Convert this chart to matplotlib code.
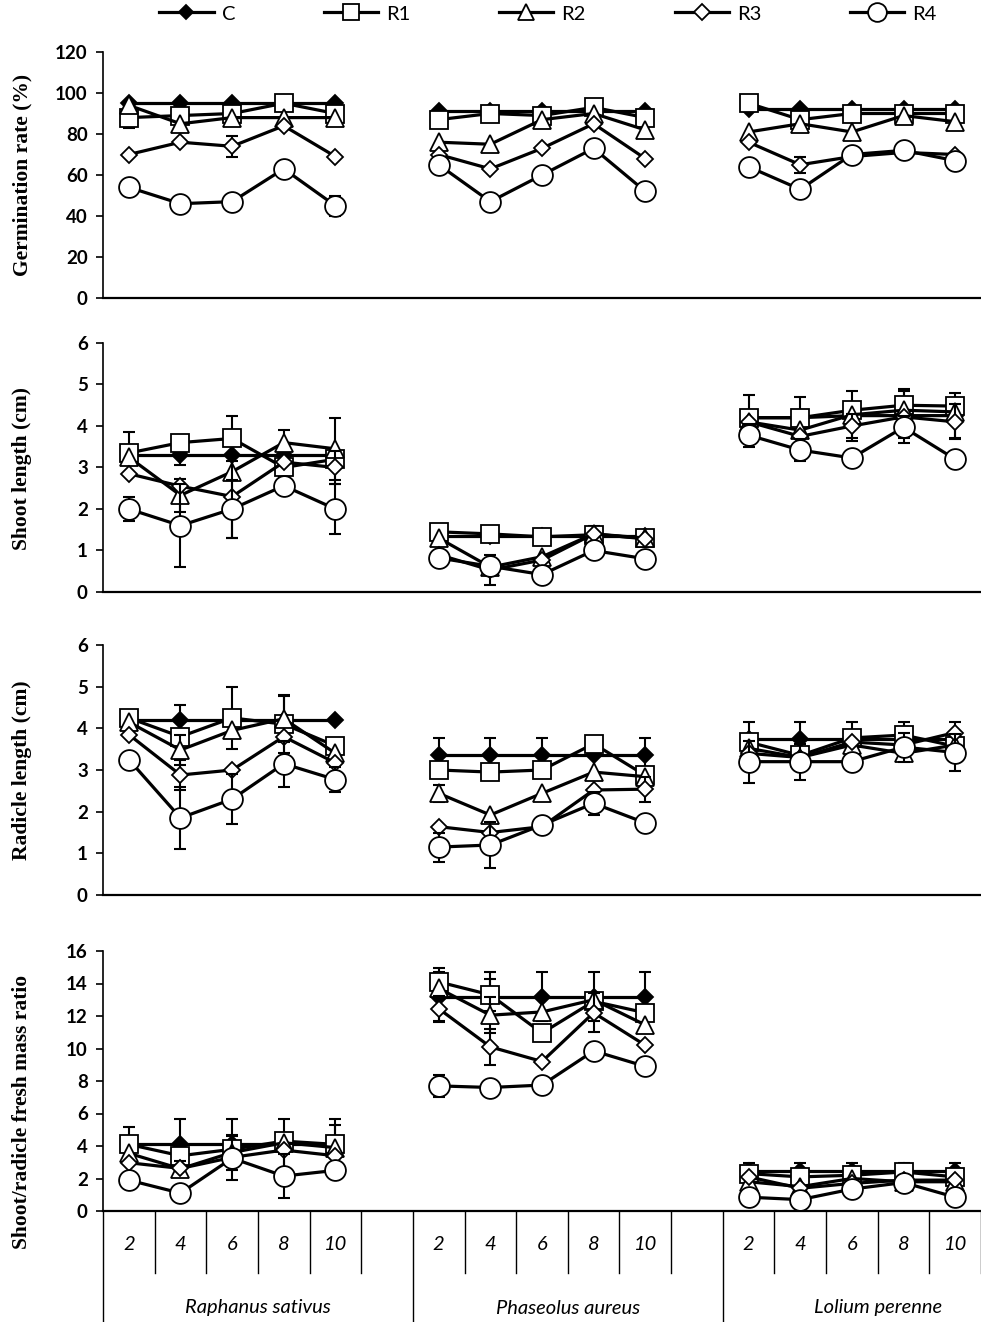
import numpy as np
import matplotlib.pyplot as plt
from matplotlib.lines import Line2D

plt.rcParams['font.family'] = 'Lato'

# categories
groups = ['Raphanus sativus', 'Phaseolus aureus', 'Lolium perenne']
days = ['2', '4', '6', '8', '10']
series = ['C', 'R1', 'R2', 'R3', 'R4']

# values: rows C,R1,R2,R3,R4 ; 15 columns = 3 species x days 2..10
germ = [
    [95, 95, 95, 95, 95, 91, 91, 91, 91, 91, 92, 92, 92, 92, 92],
    [88, 89, 90, 95, 90, 87, 90, 89, 93, 88, 95, 87, 90, 90, 90],
    [94, 85, 88, 88, 88, 76, 75, 87, 90, 82, 81, 85, 81, 89, 86],
    [70, 76, 74, 84, 69, 70, 63, 73, 85, 68, 76, 65, 69, 71, 70],
    [54, 46, 47, 63, 45, 65, 47, 60, 73, 52, 64, 53, 70, 72, 67],
]
germ_err = [
    [0, 0, 0, 0, 0, 0, 0, 0, 0, 0, 0, 0, 0, 0, 0],
    [5, 0, 0, 0, 0, 0, 0, 0, 0, 0, 0, 0, 0, 0, 0],
    [0, 0, 0, 0, 0, 0, 0, 0, 0, 0, 0, 0, 0, 0, 0],
    [0, 0, 5, 0, 0, 0, 0, 0, 0, 0, 0, 4, 0, 0, 0],
    [0, 0, 0, 0, 5, 0, 0, 0, 0, 0, 0, 0, 0, 0, 0],
]

shoot = [
    [3.3, 3.3, 3.3, 3.3, 3.3, 1.35, 1.35, 1.35, 1.35, 1.35, 4.2, 4.2, 4.25, 4.25, 4.25],
    [3.35, 3.6, 3.7, 3.0, 3.2, 1.45, 1.4, 1.33, 1.38, 1.3, 4.2, 4.2, 4.38, 4.5, 4.48],
    [3.25, 2.33, 2.9, 3.6, 3.45, 1.3, 0.6, 0.85, 1.4, 1.3, 4.1, 3.9, 4.27, 4.38, 4.34],
    [2.85, 2.55, 2.3, 3.13, 3.0, 0.9, 0.53, 0.77, 1.4, 1.28, 4.1, 3.75, 4.0, 4.22, 4.1],
    [2.0, 1.6, 2.0, 2.56, 2.0, 0.82, 0.62, 0.42, 1.0, 0.8, 3.78, 3.42, 3.23, 3.97, 3.2],
]
shoot_err = [
    [0, 0.25, 0, 0, 0, 0, 0, 0, 0.25, 0, 0.55, 0.5, 0.6, 0.65, 0.55],
    [0.5, 0, 0.55, 0, 0, 0, 0, 0.2, 0, 0, 0, 0, 0, 0.35, 0],
    [0, 0.4, 0, 0.3, 0.75, 0, 0, 0, 0, 0, 0, 0, 0, 0, 0],
    [0, 0, 1.0, 0, 0.4, 0, 0.35, 0, 0, 0, 0, 0, 0.3, 0, 0.42],
    [0.28, 1.0, 0.7, 0.2, 0.6, 0, 0, 0, 0, 0, 0.28, 0.27, 0, 0.27, 0],
]

radicle = [
    [4.2, 4.2, 4.2, 4.2, 4.2, 3.35, 3.35, 3.35, 3.35, 3.35, 3.75, 3.75, 3.75, 3.75, 3.75],
    [4.25, 3.8, 4.25, 4.1, 3.58, 3.0, 2.95, 3.0, 3.63, 2.87, 3.67, 3.35, 3.77, 3.84, 3.57],
    [4.15, 3.48, 3.95, 4.23, 3.4, 2.44, 1.92, 2.44, 2.95, 2.84, 3.52, 3.3, 3.6, 3.4, 3.6],
    [3.85, 2.88, 3.0, 3.8, 3.17, 1.64, 1.5, 1.64, 2.52, 2.54, 3.4, 3.3, 3.67, 3.6, 3.9],
    [3.25, 1.85, 2.3, 3.15, 2.77, 1.15, 1.2, 1.68, 2.2, 1.73, 3.2, 3.2, 3.2, 3.55, 3.42],
]
radicle_err = [
    [0, 0.35, 0, 0, 0, 0.43, 0.43, 0.43, 0, 0.43, 0.4, 0.4, 0.4, 0.4, 0.4],
    [0, 0, 0.75, 0.7, 0, 0, 0, 0, 0, 0, 0, 0, 0, 0, 0],
    [0, 0.35, 0, 0.55, 0, 0.2, 0, 0, 0, 0, 0, 0, 0, 0, 0],
    [0, 0.35, 0, 0, 0, 0, 0, 0, 0, 0.3, 0, 0, 0, 0, 0],
    [0, 0.75, 0.6, 0.55, 0.3, 0.35, 0.56, 0.2, 0.28, 0, 0.5, 0.43, 0, 0.35, 0.45],
]

ratio = [
    [4.1, 4.1, 4.1, 4.1, 4.1, 13.2, 13.2, 13.2, 13.2, 13.2, 2.45, 2.45, 2.45, 2.45, 2.45],
    [4.1, 3.4, 3.8, 4.3, 4.1, 14.1, 13.3, 10.95, 12.9, 12.2, 2.3, 2.1, 2.2, 2.4, 2.1],
    [3.55, 2.6, 3.6, 4.2, 3.9, 13.7, 12.05, 12.25, 13.0, 11.45, 1.8, 1.5, 2.0, 1.8, 1.8],
    [2.97, 2.62, 3.3, 3.75, 3.4, 12.45, 10.1, 9.2, 12.2, 10.2, 2.1, 1.4, 1.7, 1.9, 1.9],
    [1.9, 1.1, 3.25, 2.15, 2.5, 7.7, 7.6, 7.75, 9.85, 8.9, 0.85, 0.7, 1.35, 1.75, 0.85],
]
ratio_err = [
    [0, 1.55, 1.55, 1.55, 1.55, 1.5, 1.5, 1.5, 1.5, 1.5, 0.5, 0.5, 0.5, 0.5, 0.5],
    [1.1, 0, 0.9, 0, 1.2, 0.85, 1.0, 0.3, 0, 0, 0, 0, 0, 0, 0],
    [0, 0.45, 0, 0, 0, 0, 1.1, 0, 0, 0, 0, 0, 0, 0, 0],
    [0, 0, 0, 0, 0, 0.8, 1.1, 0, 1.2, 0, 0, 0, 0, 0, 0],
    [0, 0, 1.35, 1.35, 0, 0.7, 0, 0, 0, 0, 0, 0, 0.5, 0, 0],
]

panels = [
    (germ, germ_err, 'Germination rate (%)', 120, 20),
    (shoot, shoot_err, 'Shoot length (cm)', 6, 1),
    (radicle, radicle_err, 'Radicle length (cm)', 6, 1),
    (ratio, ratio_err, 'Shoot/radicle fresh mass ratio', 16, 2),
]

styles = {
    'C':  dict(marker='D', ms=8, mfc='black'),
    'R1': dict(marker='s', ms=12.5, mfc='white'),
    'R2': dict(marker='^', ms=13, mfc='white'),
    'R3': dict(marker='D', ms=8.5, mfc='white'),
    'R4': dict(marker='o', ms=15, mfc='white'),
}

W, H = 981, 1322
fig = plt.figure(figsize=(W / 100, H / 100), dpi=100)

# axes boxes in pixels: (top, bottom)
boxes = [(52, 298), (343, 592), (645, 895), (951, 1211)]
label_y = [175, 468, 770, 1112]
left_px, right_px = 103, 981

axes = []
for (vals, errs, ylab, ymax, ystep), (tp, bt), ly in zip(panels, boxes, label_y):
    ax = fig.add_axes([left_px / W, 1 - bt / H, (right_px - left_px) / W, (bt - tp) / H])
    axes.append(ax)
    for k, name in enumerate(series):
        st = styles[name]
        for g in range(3):
            xs = np.arange(5) + g * 6 + 0.5
            ys = np.array(vals[k][g * 5:(g + 1) * 5])
            es = np.array(errs[k][g * 5:(g + 1) * 5])
            m = es > 0
            if m.any():
                ax.errorbar(xs[m], ys[m], yerr=es[m], fmt='none', ecolor='black',
                            elinewidth=1.5, capsize=4.5, capthick=1.5, zorder=2 + k)
            ax.plot(xs, ys, color='black', lw=2.3, marker=st['marker'], ms=st['ms'],
                    mfc=st['mfc'], mec='black', mew=1.3, zorder=2 + k,
                    clip_on=False)
    ax.set_xlim(0, 17)
    ax.set_ylim(0, ymax)
    ax.set_yticks(np.arange(0, ymax + ystep / 2, ystep))
    ax.set_xticks([])
    for s in ['top', 'right']:
        ax.spines[s].set_visible(False)
    ax.spines['left'].set_linewidth(1.2)
    ax.spines['bottom'].set_linewidth(1.6)
    ax.tick_params(axis='y', direction='out', length=5, width=1.2, pad=6)
    for t in ax.get_yticklabels():
        t.set_fontweight('bold')
        t.set_fontsize(13.5)
    fig.text(22 / W, 1 - ly / H, ylab, rotation=90, ha='center', va='center',
             family='Liberation Serif', fontsize=15.5, fontweight='semibold')

# category axis under last panel
ax = axes[-1]
trans = ax.get_xaxis_transform()
hpx = boxes[-1][1] - boxes[-1][0]
for b in range(1, 18):
    if b % 6 == 0:
        continue
    ax.add_line(Line2D([b, b], [0, -62 / hpx], transform=trans, color='black',
                       lw=1.0, clip_on=False))
for b in [0, 6, 12]:
    ax.add_line(Line2D([b, b], [0, -115 / hpx], transform=trans, color='black',
                       lw=1.0, clip_on=False))
for g in range(3):
    for i, d in enumerate(days):
        ax.text(g * 6 + i + 0.5, -34 / hpx, d, transform=trans, ha='center',
                va='center', fontsize=14.5, style='italic')
    ax.text(g * 6 + 3, -97 / hpx, groups[g], transform=trans, ha='center',
            va='center', fontsize=14.5, style='italic')

# legend
handles = [Line2D([], [], color='black', lw=2.3, marker=styles[n]['marker'],
                  ms=styles[n]['ms'] * 0.9, mfc=styles[n]['mfc'], mec='black', mew=1.3)
           for n in series]
fig.legend(handles, series, loc='center', bbox_to_anchor=(548 / W, 1 - 14 / H), ncol=5,
           frameon=False, fontsize=14.5, handlelength=2.7, handletextpad=0.4,
           columnspacing=4.4)

fig.savefig('out.png', dpi=100)
